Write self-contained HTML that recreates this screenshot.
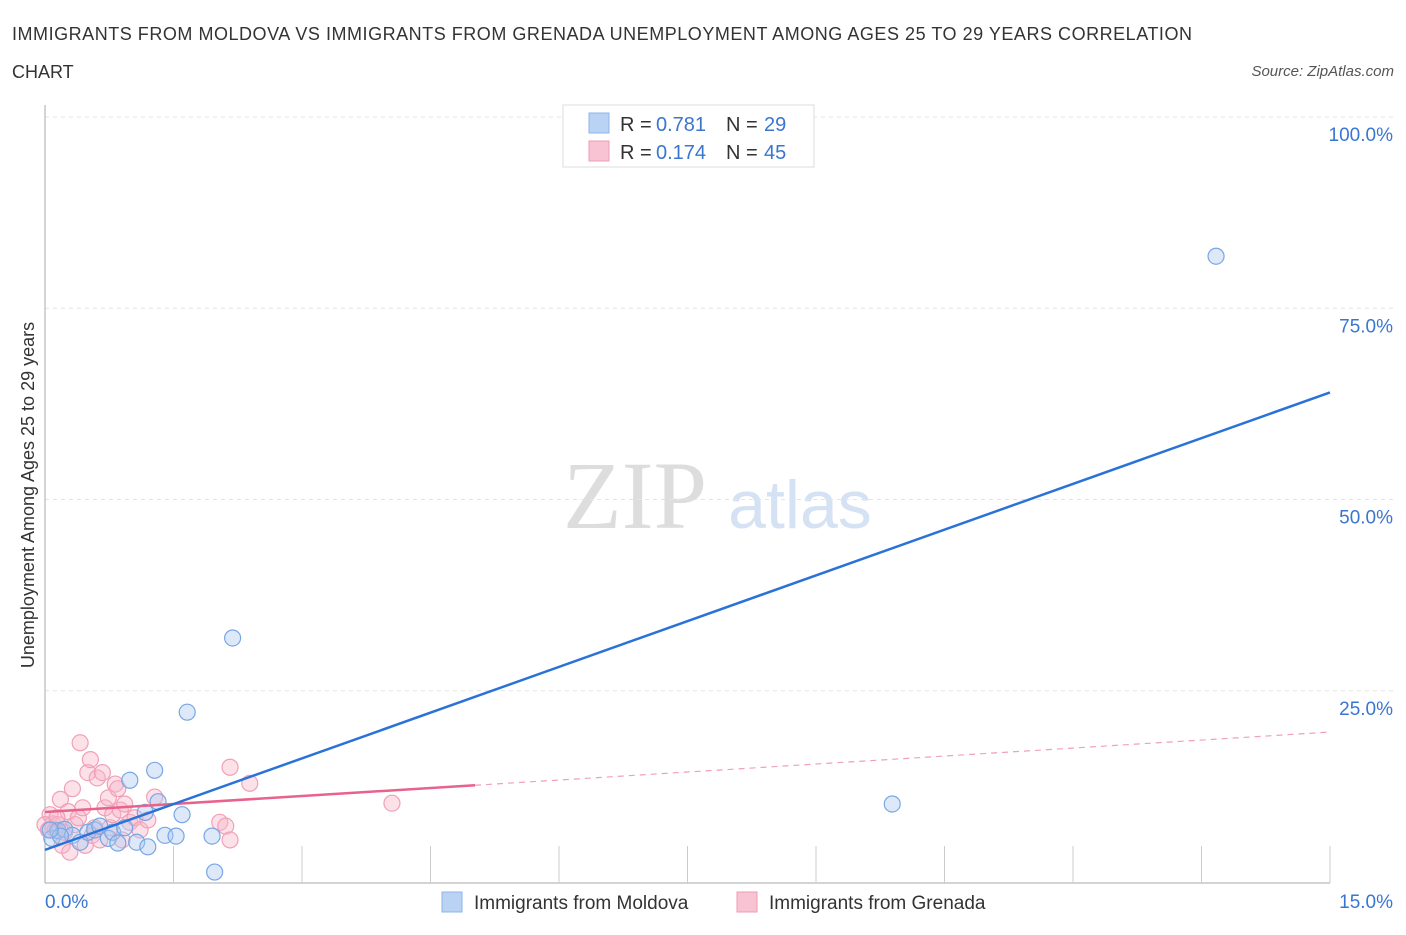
<!DOCTYPE html>
<html><head><meta charset="utf-8"><style>
body{margin:0;background:#fff;font-family:"Liberation Sans",sans-serif;}
</style></head><body>
<svg id="c" width="1406" height="930" xmlns="http://www.w3.org/2000/svg">
<text x="12" y="40" font-size="18" fill="#333" textLength="1180">IMMIGRANTS FROM MOLDOVA VS IMMIGRANTS FROM GRENADA UNEMPLOYMENT AMONG AGES 25 TO 29 YEARS CORRELATION</text>
<text x="12" y="78" font-size="18" fill="#333">CHART</text>
<text x="1394" y="76" font-size="15" fill="#555" font-style="italic" text-anchor="end">Source: ZipAtlas.com</text>
<text x="635" y="528" font-size="96" fill="#ddd" font-family="Liberation Serif,serif" text-anchor="middle">ZIP</text>
<text x="800" y="528" font-size="68" fill="#d4e2f4" text-anchor="middle">atlas</text>
<text transform="translate(34,495) rotate(-90)" font-size="18" fill="#333" text-anchor="middle">Unemployment Among Ages 25 to 29 years</text>
<g id="grid"></g><g id="marks"></g>
<g>
<rect x="563" y="105" width="251" height="62" fill="#fff" stroke="#ddd"/>
<rect x="589" y="113" width="20" height="20" fill="#bad3f5" stroke="#8fb4e8"/>
<text x="620" y="131" font-size="20" fill="#333">R =</text>
<text x="656" y="131" font-size="20" fill="#3a76d0">0.781</text>
<text x="726" y="131" font-size="20" fill="#333">N =</text>
<text x="764" y="131" font-size="20" fill="#3a76d0">29</text>
<rect x="589" y="141" width="20" height="20" fill="#f8c4d3" stroke="#ee9bb3"/>
<text x="620" y="159" font-size="20" fill="#333">R =</text>
<text x="656" y="159" font-size="20" fill="#3a76d0">0.174</text>
<text x="726" y="159" font-size="20" fill="#333">N =</text>
<text x="764" y="159" font-size="20" fill="#3a76d0">45</text>
</g>
<g>
<rect x="442" y="892" width="20" height="20" fill="#bad3f5" stroke="#8fb4e8"/>
<text x="474" y="909" font-size="19" fill="#333">Immigrants from Moldova</text>
<rect x="737" y="892" width="20" height="20" fill="#f8c4d3" stroke="#ee9bb3"/>
<text x="769" y="909" font-size="19" fill="#333">Immigrants from Grenada</text>
</g>
</svg>
<script>
const xTicks=[0,15];
const yTicks=[25,50,75,100];
const moldovaX=[0.08,0.15,0.23,0.32,0.41,0.5,0.58,0.64,0.74,0.79,0.85,0.93,0.99,1.07,1.17,1.2,1.28,1.32,1.4,1.53,1.6,1.66,1.95,1.98,2.19,9.89,13.67,0.18,0.06];
const moldovaY=[5.7,6.7,6.9,6.1,5.2,6.5,6.8,7.3,5.7,6.5,5.1,7.1,13.3,5.2,9.1,4.6,14.6,10.5,6.1,6.0,8.8,22.2,6.0,1.3,31.9,10.2,81.8,6.0,6.8];
const grenadaX=[0.06,0.09,0.12,0.15,0.18,0.2,0.23,0.27,0.29,0.32,0.35,0.39,0.41,0.44,0.47,0.5,0.53,0.55,0.58,0.61,0.64,0.67,0.7,0.74,0.76,0.79,0.82,0.85,0.88,0.9,0.93,0.99,1.05,1.11,1.2,1.28,2.04,2.11,2.16,2.16,2.39,4.05,0.0,0.04,0.14];
const grenadaY=[8.8,7.6,6.8,7.5,10.8,4.8,6.5,9.2,3.9,12.2,7.5,8.4,18.2,9.7,4.8,14.3,16.0,6.1,7.1,13.6,5.5,14.3,9.7,11.0,7.1,8.8,12.8,12.2,9.4,5.5,10.2,7.8,8.4,6.8,8.1,11.1,7.8,7.3,15.0,5.5,12.9,10.3,7.5,6.8,8.4];
const blueLine=[4.2,64.0];
const pinkLine=[9.15,19.6];
const pinkSolidEnd=5.02;
const X=v=>45+v*(1285/15), Y=v=>882-v*7.65;
const NS="http://www.w3.org/2000/svg";
const grid=document.getElementById('grid'), marks=document.getElementById('marks');
function mk(tag,at,p){const e=document.createElementNS(NS,tag);for(const k in at)e.setAttribute(k,at[k]);p.appendChild(e);return e;}
yTicks.forEach(t=>{
 const l=mk('line',{x1:45,x2:1395,y1:Y(t),y2:Y(t),stroke:'#e4e4e4','stroke-dasharray':'4,4'},grid);
 
 
 const tx=mk('text',{x:1393,y:Y(t)+24,'font-size':19,fill:'#3a76d0','text-anchor':'end'},grid);tx.textContent=t.toFixed(1)+'%';
 
 
});
mk('line',{x1:45,x2:45,y1:105,y2:883,stroke:'#aaa'},grid);
mk('line',{x1:45,x2:1330,y1:883,y2:883,stroke:'#aaa'},grid);
for(let i=1;i<=10;i++){const x=45+i*128.5;mk('line',{x1:x,x2:x,y1:846,y2:883,stroke:'#ccc'},grid);}
xTicks.forEach((t,i)=>{const tx=mk('text',{x:i?1393:45,y:908,'font-size':19,fill:'#3a76d0','text-anchor':i?'end':'start'},grid);tx.textContent=t.toFixed(1)+'%';
 
 });
grenadaX.forEach((v,i)=>{const c=mk('circle',{cx:X(v),cy:Y(grenadaY[i]),r:8,fill:'rgba(248,180,200,0.4)',stroke:'#f0a0b8','stroke-width':1.2},marks);
 
 });
moldovaX.forEach((v,i)=>{const c=mk('circle',{cx:X(v),cy:Y(moldovaY[i]),r:8,fill:'rgba(170,200,240,0.4)',stroke:'#78a6e4','stroke-width':1.2},marks);
 
 });
const py=v=>pinkLine[0]+(pinkLine[1]-pinkLine[0])*v/15;
const ps=mk('line',{x1:X(0),y1:Y(pinkLine[0]),x2:X(pinkSolidEnd),y2:Y(py(pinkSolidEnd)),stroke:'#e8628c','stroke-width':2.5},marks);


const pd=mk('line',{x1:X(pinkSolidEnd),y1:Y(py(pinkSolidEnd)),x2:X(15),y2:Y(pinkLine[1]),stroke:'#f0a0b8','stroke-width':1.2,'stroke-dasharray':'6,5'},marks);


const bl=mk('line',{x1:X(0),y1:Y(blueLine[0]),x2:X(15),y2:Y(blueLine[1]),stroke:'#2b72d8','stroke-width':2.5},marks);


</script>
</body></html>
